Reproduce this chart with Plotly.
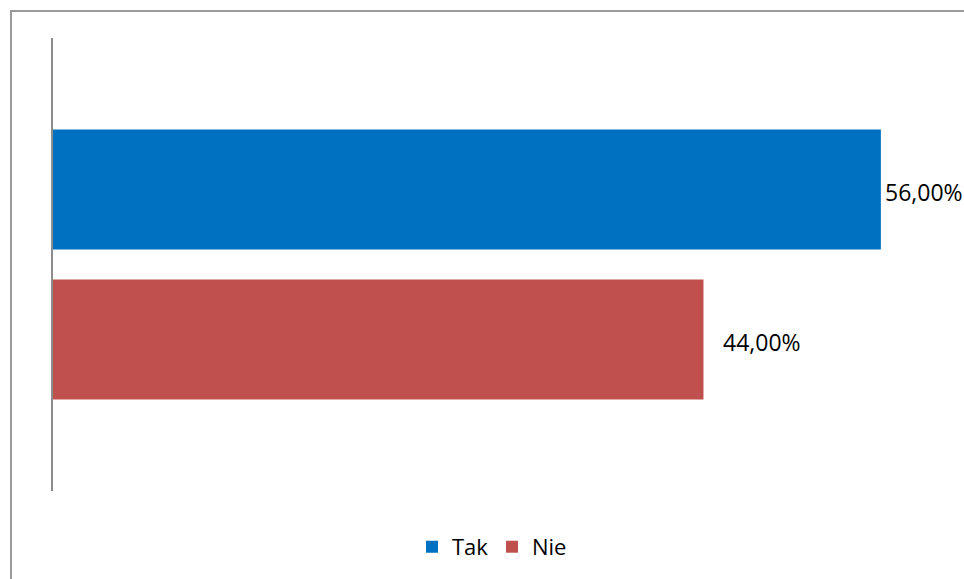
import plotly.graph_objects as go

categories = ["Tak", "Nie"]
values = [56.0, 44.0]
colors = ["#0070C0", "#C0504D"]

def fmt(v):
    return f"{v:.2f}".replace(".", ",") + "%"

fig = go.Figure()
for cat, val, col in zip(categories, values, colors):
    fig.add_trace(go.Bar(
        x=[val], y=[cat], name=cat, orientation="h",
        marker=dict(color=col, line=dict(width=0)),
        width=0.8, hoverinfo="skip",
    ))

label_shift = {"Tak": 2, "Nie": 18}
for cat, val in zip(categories, values):
    fig.add_annotation(
        x=val, y=cat, text=fmt(val), showarrow=False,
        xanchor="left", yanchor="middle", xshift=label_shift[cat], yshift=-2,
        font=dict(family="Open Sans", size=23, color="#000000"),
    )

W, H = 964, 579
L, R, T, B = 53, 24, 38, 87
pw, ph = W - L - R, H - T - B
fig.add_shape(
    type="rect", xref="paper", yref="paper",
    x0=(11 - L) / pw, x1=(980 - L) / pw,
    y0=-(600 - (H - B)) / ph, y1=1 + (T - 11) / ph,
    line=dict(color="#9a9a9a", width=2), fillcolor="rgba(0,0,0,0)", layer="below",
)

fig.update_layout(
    width=W, height=H,
    margin=dict(l=L, r=R, t=T, b=B),
    paper_bgcolor="white", plot_bgcolor="white",
    barmode="overlay",
    showlegend=True,
    legend=dict(orientation="h", x=(492 - L) / pw, xanchor="center", y=-0.121, yanchor="middle",
                font=dict(family="Open Sans", size=22, color="#000000"),
                entrywidth=35, entrywidthmode="pixels",
                itemclick=False, itemdoubleclick=False),
    xaxis=dict(range=[0, 60], showgrid=False, zeroline=False, showline=False,
               showticklabels=False, ticks=""),
    yaxis=dict(type="category", categoryorder="array", categoryarray=categories,
               range=[2.01, -1.01], showgrid=False, zeroline=False,
               showline=True, linecolor="#8c8c8c", linewidth=2,
               showticklabels=False, ticks=""),
    font=dict(family="Open Sans"),
)

fig.write_html(
    "out.html",
    config={"displayModeBar": False, "staticPlot": True},
    post_script="document.body.style.margin='0';document.body.style.overflow='hidden';",
)
